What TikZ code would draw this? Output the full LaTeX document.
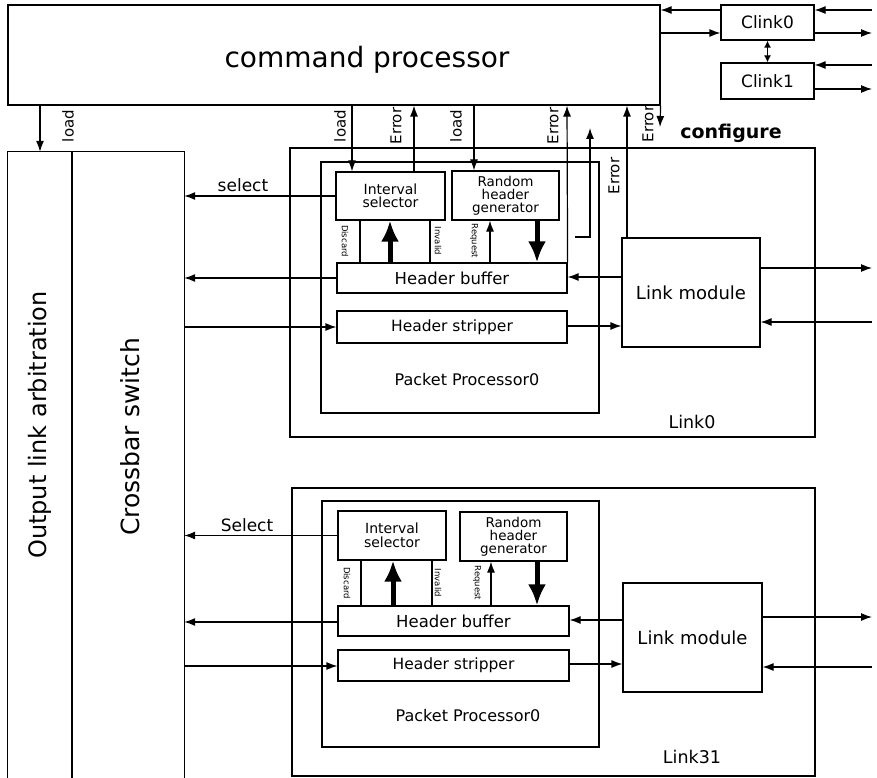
\documentclass[tikz,border=0pt]{standalone}
\usepackage{fontspec}
\setmainfont{DejaVu Sans}
\usetikzlibrary{arrows.meta,calc}
\newcommand\fsz[1]{\fontsize{#1}{#1}\selectfont}
\begin{document}
\begin{tikzpicture}[x=1pt,y=-1pt,
  box/.style={draw, line width=1.2pt, inner sep=0pt, align=center},
  nobox/.style={inner sep=0pt, align=center},
  arr/.style={line width=1.2pt, -{Latex[length=11pt,width=8pt]}},
  darr/.style={line width=1.2pt, {Latex[length=7pt,width=7pt]}-{Latex[length=7pt,width=7pt]}},
  fat/.style={line width=5pt, -{Latex[length=21pt,width=18pt]}},
  ln/.style={line width=1.2pt},
  vlab/.style={rotate=90, inner sep=0pt, font=\fsz{15}},
  tlab/.style={rotate=-90, inner sep=0pt, font=\fsz{8.5}},
  rhgfont/.style={font=\fontsize{13.5}{13}\selectfont},
  iselfont/.style={font=\fontsize{14}{13.5}\selectfont},
]
\useasboundingbox (0,0) rectangle (877,778);

% ---------- command processor and clinks
\node[box, minimum width=652pt, minimum height=100pt] (cmd) at (334,55) {};
\node[nobox, font=\fsz{28}] (cmdtxt) at (367,60) {command processor};
\node[box, minimum width=93pt, minimum height=35pt, font=\fsz{17}] (clink0) at (767.5,22.5) {Clink0};
\node[box, minimum width=93pt, minimum height=36pt, font=\fsz{17}] (clink1) at (767.5,81) {Clink1};

\coordinate (r10) at (872,10);
\coordinate (r33) at (872,33);
\coordinate (r65) at (872,65);
\coordinate (r89) at (872,89);
\draw[arr] (r10) -- (clink0.east |- r10);
\draw[arr] (clink0.west |- r10) -- (cmd.east |- r10);
\draw[arr] (cmd.east |- r33) -- (clink0.west |- r33);
\draw[arr] (clink0.east |- r33) -- (r33);
\draw[arr] (r65) -- (clink1.east |- r65);
\draw[arr] (clink1.east |- r89) -- (r89);
\draw[darr] (clink0.south) -- (clink1.north);

% ---------- arbitration and crossbar
\node[nobox, minimum width=64pt, minimum height=626pt] (arb) at (40,465) {};
\node[nobox, minimum width=112pt, minimum height=626pt] (cb) at (128,465) {};
\draw[ln] (arb.south west) -- (arb.north west) -- (cb.north east) -- (cb.south east);
\draw[line width=2.5pt] (arb.north east) -- (arb.south east);
\node[nobox, rotate=90, font=\fsz{24}] (arbtxt) at (40,425) {Output link arbitration};
\node[nobox, rotate=90, font=\fsz{25}] (cbtxt) at (130,437) {Crossbar switch};

\coordinate (xa) at (40,0);
\draw[arr] (cmd.south -| xa) -- (arb.north -| xa);
\node[vlab] (lload0) at (68,126) {load};

% ---------- Link0
\node[box, minimum width=525pt, minimum height=289pt] (link0) at (552.5,292.5) {};
\node[box, minimum width=278pt, minimum height=251pt] (pp0) at (460,287.5) {};
\node[box, minimum width=109pt, minimum height=48pt, iselfont] (isel0) at (390.5,196) {Interval\\selector};
\node[box, minimum width=107pt, minimum height=49pt, rhgfont] (rhg0) at (505.5,195.5) {Random\\header\\generator};
\node[box, minimum width=230pt, minimum height=30pt, font=\fsz{16.5}] (hbuf0) at (452,278) {Header buffer};
\node[box, minimum width=230pt, minimum height=32pt, font=\fsz{15.5}] (hstr0) at (452,327) {Header stripper};
\node[box, minimum width=138pt, minimum height=109pt, font=\fsz{18}] (lm0) at (691,292.5) {Link module};
\node[nobox, font=\fsz{16}] (pp0txt) at (467,380) {Packet Processor0};
\node[nobox, font=\fsz{17.5}] (link0txt) at (692,422) {Link0};
\node[nobox, font=\bfseries\fsz{19}] (conftxt) at (731,133) {configure};

% left connections
\draw[arr] (isel0.west) -- (isel0.west -| cb.east);
\node[nobox, font=\fsz{17}] (sel0) at (243,185) {select};
\draw[arr] (hbuf0.west) -- (hbuf0.west -| cb.east);
\draw[arr] (hstr0.west -| cb.east) -- (hstr0.west);

% link module connections
\coordinate (y268) at (872,268);
\coordinate (y322) at (872,322);
\coordinate (y277) at (0,277);
\coordinate (y326) at (0,326);
\draw[arr] (lm0.west |- y277) -- (hbuf0.east |- y277);
\draw[arr] (hstr0.east |- y326) -- (lm0.west |- y326);
\draw[arr] (lm0.east |- y268) -- (y268);
\draw[arr] (y322) -- (lm0.east |- y322);

% inner vertical connections
\coordinate (d0) at (360,0);
\coordinate (f0) at (390,0);
\coordinate (i0) at (430,0);
\coordinate (q0) at (490,0);
\coordinate (g0) at (537,0);
\draw[ln] (isel0.south -| d0) -- (hbuf0.north -| d0);
\draw[fat] (hbuf0.north -| f0) -- (isel0.south -| f0);
\draw[ln] (isel0.south -| i0) -- (hbuf0.north -| i0);
\draw[arr] (hbuf0.north -| q0) -- (rhg0.south -| q0);
\draw[fat] (rhg0.south -| g0) -- (hbuf0.north -| g0);
\node[tlab] (disc0) at (345,241) {Discard};
\node[tlab] (inv0) at (438,241) {Invalid};
\node[tlab] (req0) at (474,241) {Request};

% top connections
\coordinate (la) at (352,0);
\coordinate (ea) at (414,0);
\coordinate (lb) at (474,0);
\coordinate (eb) at (567,0);
\coordinate (ec) at (627,0);
\draw[arr] (cmd.south -| la) -- (isel0.north -| la);
\draw[arr] (isel0.north -| ea) -- (cmd.south -| ea);
\draw[arr] (cmd.south -| lb) -- (rhg0.north -| lb);
\draw[arr] (hbuf0.north east) -- (cmd.south -| eb);
\draw[arr] (lm0.north -| ec) -- (cmd.south -| ec);
\coordinate (bend1) at (575,237);
\coordinate (bend2) at (590,128);
\draw[arr] (bend1) -| (bend2);
\coordinate (edn) at (660,127);
\draw[arr] (cmd.south east) -- (edn);
\node[vlab] (lload1) at (340,126) {load};
\node[vlab] (lerr1) at (396,126) {Error};
\node[vlab] (lload2) at (456,126) {load};
\node[vlab] (lerr2) at (553,126) {Error};
\node[vlab] (lerr3) at (614,176) {Error};
\node[vlab] (lerr4) at (648,124) {Error};

% ---------- Link31
\node[box, minimum width=523pt, minimum height=288pt] (link31) at (553.5,632) {};
\node[box, minimum width=277pt, minimum height=246pt] (pp31) at (460.5,624) {};
\node[box, minimum width=108pt, minimum height=49pt, iselfont] (isel31) at (392,535.5) {Interval\\selector};
\node[box, minimum width=107pt, minimum height=49pt, rhgfont] (rhg31) at (513.5,536.5) {Random\\header\\generator};
\node[box, minimum width=231pt, minimum height=30pt, font=\fsz{16.5}] (hbuf31) at (453.5,621) {Header buffer};
\node[box, minimum width=231pt, minimum height=31pt, font=\fsz{15.5}] (hstr31) at (453.5,665.5) {Header stripper};
\node[box, minimum width=139pt, minimum height=109pt, font=\fsz{18}] (lm31) at (692.5,637.5) {Link module};
\node[nobox, font=\fsz{16}] (pp31txt) at (468,716) {Packet Processor0};
\node[nobox, font=\fsz{17.5}] (link31txt) at (692,757) {Link31};

\draw[arr] (isel31.west) -- (isel31.west -| cb.east);
\node[nobox, font=\fsz{17}] (sel31) at (247,525) {Select};
\coordinate (y622) at (0,622);
\coordinate (y666) at (0,666);
\draw[arr] (hbuf31.west |- y622) -- (cb.east |- y622);
\draw[arr] (cb.east |- y666) -- (hstr31.west |- y666);

\coordinate (y617) at (872,617);
\coordinate (y667) at (872,667);
\coordinate (y620) at (0,620);
\coordinate (y664) at (0,664);
\draw[arr] (lm31.west |- y620) -- (hbuf31.east |- y620);
\draw[arr] (hstr31.east |- y664) -- (lm31.west |- y664);
\draw[arr] (lm31.east |- y617) -- (y617);
\draw[arr] (y667) -- (lm31.east |- y667);

\coordinate (d1) at (361,0);
\coordinate (f1) at (393,0);
\coordinate (i1) at (432,0);
\coordinate (q1) at (491,0);
\coordinate (g1) at (537,0);
\draw[ln] (isel31.south -| d1) -- (hbuf31.north -| d1);
\draw[fat] (hbuf31.north -| f1) -- (isel31.south -| f1);
\draw[ln] (isel31.south -| i1) -- (hbuf31.north -| i1);
\draw[arr] (hbuf31.north -| q1) -- (rhg31.south -| q1);
\draw[fat] (rhg31.south -| g1) -- (hbuf31.north -| g1);
\node[tlab] (disc1) at (347,583) {Discard};
\node[tlab] (inv1) at (438,583) {Invalid};
\node[tlab] (req1) at (477,583) {Request};
\end{tikzpicture}
\end{document}
